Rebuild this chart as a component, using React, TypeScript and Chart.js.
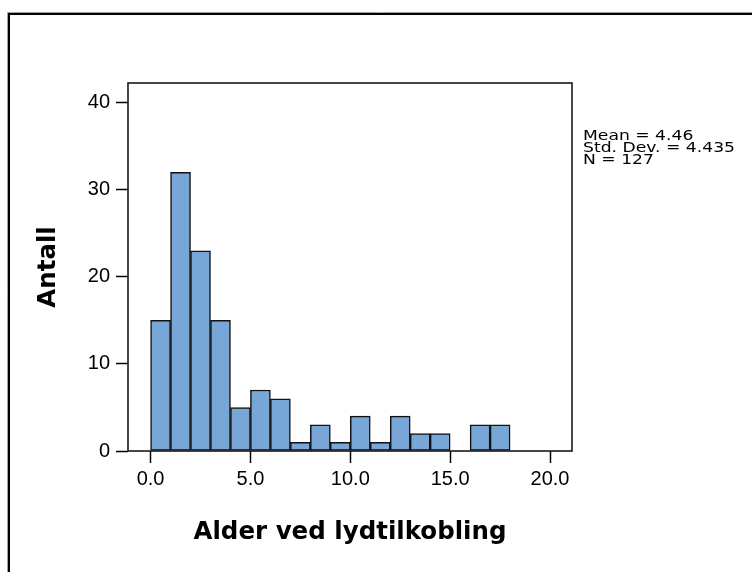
import { useEffect, useRef } from 'react';
import { Chart, registerables } from 'chart.js';

Chart.register(...registerables);

// ---- data ----
const BIN_STARTS = [0, 1, 2, 3, 4, 5, 6, 7, 8, 9, 10, 11, 12, 13, 14, 15, 16, 17];
const COUNTS = [15, 32, 23, 15, 5, 7, 6, 1, 3, 1, 4, 1, 4, 2, 2, 0, 3, 3];
const BIN_WIDTH = 1;
const X_TICKS = [0, 5, 10, 15, 20];
const Y_TICKS = [0, 10, 20, 30, 40];
const X_RANGE = [-1.13, 21.1];
const Y_RANGE = [0, 42.26];
const X_TITLE = 'Alder ved lydtilkobling';
const Y_TITLE = 'Antall';
const STAT_LINES = ['Mean = 4.46', 'Std. Dev. = 4.435', 'N = 127'];

const decor = {
  id: 'decor',
  beforeDraw(chart: any) {
    const ctx = chart.ctx;
    ctx.save();
    ctx.fillStyle = '#fff';
    ctx.fillRect(0, 0, chart.width, chart.height);
    // outer frame (top + left only visible)
    ctx.strokeStyle = '#a0a0a0';
    ctx.lineWidth = 1;
    ctx.beginPath();
    ctx.moveTo(7.5, chart.height);
    ctx.lineTo(7.5, 12.5);
    ctx.lineTo(chart.width, 12.5);
    ctx.stroke();
    ctx.strokeStyle = '#000';
    ctx.lineWidth = 2;
    ctx.beginPath();
    ctx.moveTo(9, chart.height);
    ctx.lineTo(9, 14);
    ctx.lineTo(chart.width, 14);
    ctx.stroke();
    ctx.restore();
  },
  afterDatasetsDraw(chart: any) {
    const { ctx, chartArea } = chart;
    ctx.save();
    ctx.strokeStyle = '#1a1a1a';
    ctx.lineWidth = 1.6;
    ctx.strokeRect(chartArea.left, chartArea.top, chartArea.right - chartArea.left, chartArea.bottom - chartArea.top);
    ctx.restore();
  },
  afterDraw(chart: any) {
    const { ctx, chartArea } = chart;
    ctx.save();
    ctx.font = '13.5px "DejaVu Sans", Verdana, sans-serif';
    ctx.fillStyle = '#000';
    ctx.textBaseline = 'alphabetic';
    ctx.textAlign = 'left';
    const sx = 152 / ctx.measureText(STAT_LINES[1]).width;
    ctx.translate(chartArea.right + 11, 0);
    ctx.scale(sx, 1);
    STAT_LINES.forEach((t, i) => ctx.fillText(t, 0, 140 + i * 12));
    ctx.restore();
  },
};

export default function App() {
  const ref = useRef<HTMLCanvasElement | null>(null);

  useEffect(() => {
    if (!ref.current) return;
    const tickFont = { family: '"Liberation Sans", Arial, sans-serif', size: 20 };
    const titleFont = { family: '"DejaVu Sans", Verdana, sans-serif', size: 24.5, weight: 'bold' as const };
    const chart = new Chart(ref.current, {
      type: 'bar',
      data: {
        datasets: [
          {
            data: BIN_STARTS.map((s, i) => ({ x: s + BIN_WIDTH / 2, y: COUNTS[i] })),
            backgroundColor: '#78a6d6',
            borderColor: '#111',
            borderWidth: 1.5,
            borderSkipped: false,
            barPercentage: 1,
            categoryPercentage: 1,
          } as any,
        ],
      },
      options: {
        animation: false,
        responsive: false,
        layout: { padding: { left: 0, right: 180, top: 83, bottom: 0 } },
        plugins: { legend: { display: false }, tooltip: { enabled: false } },
        scales: {
          x: {
            type: 'linear',
            min: X_RANGE[0],
            max: X_RANGE[1],
            offset: false,
            grid: { offset: false, drawOnChartArea: false, tickLength: 12, tickColor: '#000', tickWidth: 1.5 },
            border: { display: false },
            ticks: {
              font: tickFont,
              color: '#000',
              padding: 4.5,
              maxRotation: 0,
              autoSkip: false,
              callback: (v: any) => Number(v).toFixed(1),
            },
            afterBuildTicks: (s: any) => {
              s.ticks = X_TICKS.map((v) => ({ value: v }));
            },
            afterFit: (s: any) => {
              s.height = 121;
            },
            title: {
              display: true,
              text: X_TITLE,
              font: titleFont,
              color: '#000',
              padding: { top: 0, bottom: 24.8 },
            },
          } as any,
          y: {
            type: 'linear',
            min: Y_RANGE[0],
            max: Y_RANGE[1],
            grid: { drawOnChartArea: false, tickLength: 12, tickColor: '#000', tickWidth: 1.5 },
            border: { display: false },
            ticks: {
              font: tickFont,
              color: '#000',
              padding: 6,
              autoSkip: false,
              callback: (v: any) => String(v),
            },
            afterBuildTicks: (s: any) => {
              s.ticks = Y_TICKS.map((v) => ({ value: v }));
            },
            afterFit: (s: any) => {
              s.width = 128;
            },
            title: {
              display: true,
              text: Y_TITLE,
              font: titleFont,
              color: '#000',
              padding: { top: 34.3, bottom: 0 },
            },
          } as any,
        },
      },
      plugins: [decor],
    });
    return () => chart.destroy();
  }, []);

  return (
    <div style={{ position: 'absolute', left: 0, top: 0, width: 752, height: 572, background: '#fff' }}>
      <canvas ref={ref} width={752} height={572} style={{ display: 'block' }} />
    </div>
  );
}
